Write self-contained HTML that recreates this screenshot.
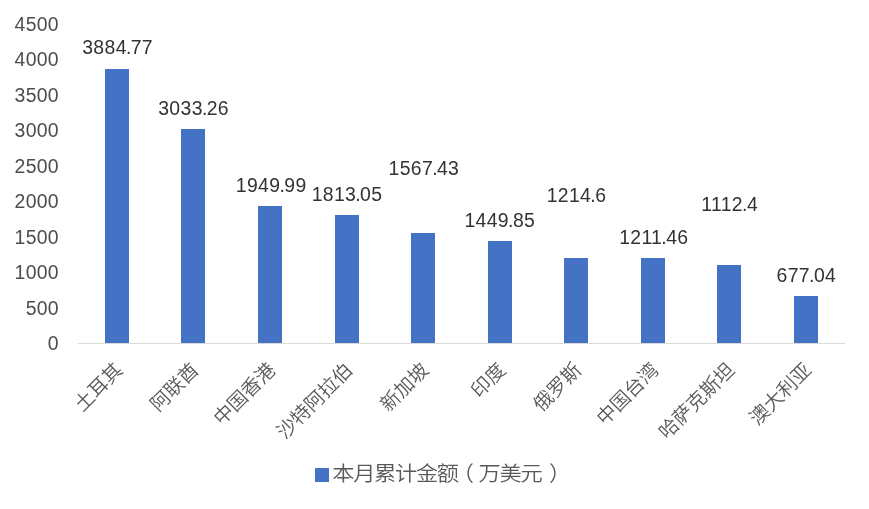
<!DOCTYPE html>
<html lang="zh-CN">
<head>
<meta charset="utf-8">
<title>本月累计金额（万美元）</title>
<style>
html,body{margin:0;padding:0;background:#fff;}
body{width:869px;height:509px;overflow:hidden;}
svg{display:block;}
text{font-family:"Liberation Sans","Noto Sans CJK SC",sans-serif;}
.tick{font-size:19.4px;fill:#4d4d4d;letter-spacing:0.3px;text-anchor:end;}
.dl{font-size:19.4px;fill:#333333;letter-spacing:0.35px;text-anchor:middle;}
.pt{letter-spacing:-0.6px;}
.cat{font-weight:350;font-size:19.5px;fill:#595959;text-anchor:end;}
.leg{font-weight:350;font-size:20.8px;fill:#595959;}
</style>
</head>
<body>
<svg width="869" height="509" viewBox="0 0 869 509">
<rect x="0" y="0" width="869" height="509" fill="#ffffff"/>
<rect x="78" y="343" width="767" height="1" fill="#d9d9d9"/>
<rect x="105" y="69" width="24" height="274" fill="#4472c4"/>
<rect x="181" y="129" width="24" height="214" fill="#4472c4"/>
<rect x="258" y="206" width="24" height="137" fill="#4472c4"/>
<rect x="335" y="215" width="24" height="128" fill="#4472c4"/>
<rect x="411" y="233" width="24" height="110" fill="#4472c4"/>
<rect x="488" y="241" width="24" height="102" fill="#4472c4"/>
<rect x="564" y="258" width="24" height="85" fill="#4472c4"/>
<rect x="641" y="258" width="24" height="85" fill="#4472c4"/>
<rect x="717" y="265" width="24" height="78" fill="#4472c4"/>
<rect x="794" y="296" width="24" height="47" fill="#4472c4"/>
<text class="tick" x="58.9" y="350.30">0</text>
<text class="tick" x="58.9" y="314.80">500</text>
<text class="tick" x="58.9" y="279.30">1000</text>
<text class="tick" x="58.9" y="243.80">1500</text>
<text class="tick" x="58.9" y="208.30">2000</text>
<text class="tick" x="58.9" y="172.80">2500</text>
<text class="tick" x="58.9" y="137.30">3000</text>
<text class="tick" x="58.9" y="101.80">3500</text>
<text class="tick" x="58.9" y="66.30">4000</text>
<text class="tick" x="58.9" y="30.80">4500</text>
<text class="dl" x="117.60" y="53.70">3884<tspan class="pt" dx="-0.9">.</tspan>77</text>
<text class="dl" x="193.60" y="115.20">3033<tspan class="pt" dx="-0.9">.</tspan>26</text>
<text class="dl" x="271.20" y="192.20">1949<tspan class="pt" dx="-0.9">.</tspan>99</text>
<text class="dl" x="347.00" y="200.50">1813<tspan class="pt" dx="-0.9">.</tspan>05</text>
<text class="dl" x="423.90" y="175.20">1567<tspan class="pt" dx="-0.9">.</tspan>43</text>
<text class="dl" x="499.80" y="226.90">1449<tspan class="pt" dx="-0.9">.</tspan>85</text>
<text class="dl" x="576.50" y="202.20">1214<tspan class="pt" dx="-0.9">.</tspan>6</text>
<text class="dl" x="653.80" y="244.20">1211<tspan class="pt" dx="-0.9">.</tspan>46</text>
<text class="dl" x="729.70" y="211.20">1112<tspan class="pt" dx="-0.9">.</tspan>4</text>
<text class="dl" x="806.40" y="282.20">677<tspan class="pt" dx="-0.9">.</tspan>04</text>
<text class="cat" transform="translate(114,361.2) rotate(-45)" x="0" y="14">土耳其</text>
<text class="cat" transform="translate(190,361.2) rotate(-45)" x="0" y="14">阿联酋</text>
<text class="cat" transform="translate(267,361.2) rotate(-45)" x="0" y="14">中国香港</text>
<text class="cat" transform="translate(344,361.2) rotate(-45)" x="0" y="14">沙特阿拉伯</text>
<text class="cat" transform="translate(420,361.2) rotate(-45)" x="0" y="14">新加坡</text>
<text class="cat" transform="translate(497,361.2) rotate(-45)" x="0" y="14">印度</text>
<text class="cat" transform="translate(573,361.2) rotate(-45)" x="0" y="14">俄罗斯</text>
<text class="cat" transform="translate(650,361.2) rotate(-45)" x="0" y="14">中国台湾</text>
<text class="cat" transform="translate(726,361.2) rotate(-45)" x="0" y="14">哈萨克斯坦</text>
<text class="cat" transform="translate(803,361.2) rotate(-45)" x="0" y="14">澳大利亚</text>
<rect x="315" y="468" width="14" height="14" fill="#4472c4"/>
<text class="leg" transform="scale(1.07 1)" x="310.56 330.09 349.63 369.16 388.69 408.22 422.15 447.29 466.82 486.36 513.08" y="481.2">本月累计金额（万美元）</text>
</svg>
</body>
</html>
